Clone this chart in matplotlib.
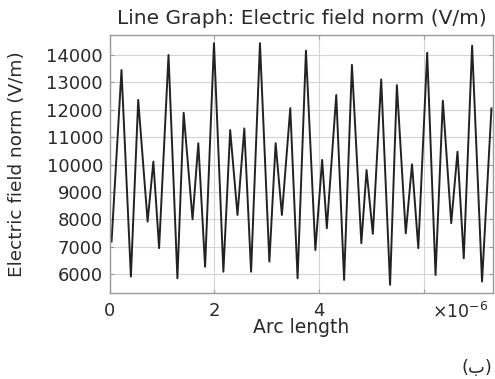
import numpy as np
import matplotlib
matplotlib.use("Agg")
import matplotlib.pyplot as plt

# --- Data (arc length in units of 1e-6, field in V/m) ---
arc_length = [0.03, 0.22, 0.40, 0.54, 0.72, 0.83, 0.94, 1.12, 1.29, 1.41,
              1.58, 1.69, 1.82, 1.99, 2.17, 2.30, 2.44, 2.57, 2.70, 2.87,
              3.05, 3.17, 3.29, 3.45, 3.59, 3.75, 3.93, 4.06, 4.15, 4.33,
              4.48, 4.63, 4.81, 4.91, 5.03, 5.19, 5.36, 5.49, 5.66, 5.78,
              5.90, 6.07, 6.23, 6.37, 6.53, 6.65, 6.77, 6.93, 7.12, 7.30]
e_norm = [7190, 13450, 5910, 12360, 7920, 10110, 6950, 14000, 5850, 11890,
          8000, 10780, 6270, 14430, 6090, 11260, 8160, 11320, 6090, 14430,
          6460, 10780, 8160, 12060, 5850, 14160, 6880, 10170, 7680, 12540,
          5790, 13640, 7130, 9800, 7470, 13110, 5610, 12900, 7490, 10010,
          6950, 14080, 5970, 12330, 7860, 10470, 6580, 14340, 5730, 12050]

x_ticks = [0, 2, 4, 6]
x_tick_labels = ["0", "2", "4", ""]
y_ticks = [6000, 7000, 8000, 9000, 10000, 11000, 12000, 13000, 14000]

plt.rcParams["font.family"] = ["DejaVu Sans"]

fig = plt.figure(figsize=(4.95, 3.79), dpi=100)
ax = fig.add_axes([0.2222, 0.226, 0.7738, 0.6817])

ax.plot(arc_length, e_norm, color="#222222", lw=1.4)

ax.set_xlim(0, 7.33)
ax.set_ylim(5300, 14730)
ax.set_xticks(x_ticks)
ax.set_xticklabels(x_tick_labels)
ax.set_yticks(y_ticks)
ax.grid(True, color="#d4d4d4", lw=0.8)
ax.set_axisbelow(True)

for s in ax.spines.values():
    s.set_color("#9a9a9a")
    s.set_linewidth(1.0)
ax.tick_params(direction="in", length=3, width=0.8, color="#9a9a9a",
               top=True, right=True, labelsize=13, labelcolor="#2a2a2a")
ax.tick_params(axis="x", pad=6)
ax.tick_params(axis="y", pad=5)

ax.set_title("Line Graph: Electric field norm (V/m)", fontsize=14.5,
             color="#2a2a2a", pad=8)
ax.set_xlabel("Arc length", fontsize=13.5, color="#2a2a2a", labelpad=-1)
ax.set_ylabel("Electric field norm (V/m)", fontsize=13.3, color="#2a2a2a",
              labelpad=15)

ax.text(0.988, -0.035, r"$\times10^{-6}$", transform=ax.transAxes,
        ha="right", va="top", fontsize=12.5, color="#2a2a2a")
fig.text(0.995, 0.03, "(ب)", ha="right", va="center", fontsize=13,
         color="#2a2a2a")

fig.savefig("out.png", dpi=100)
